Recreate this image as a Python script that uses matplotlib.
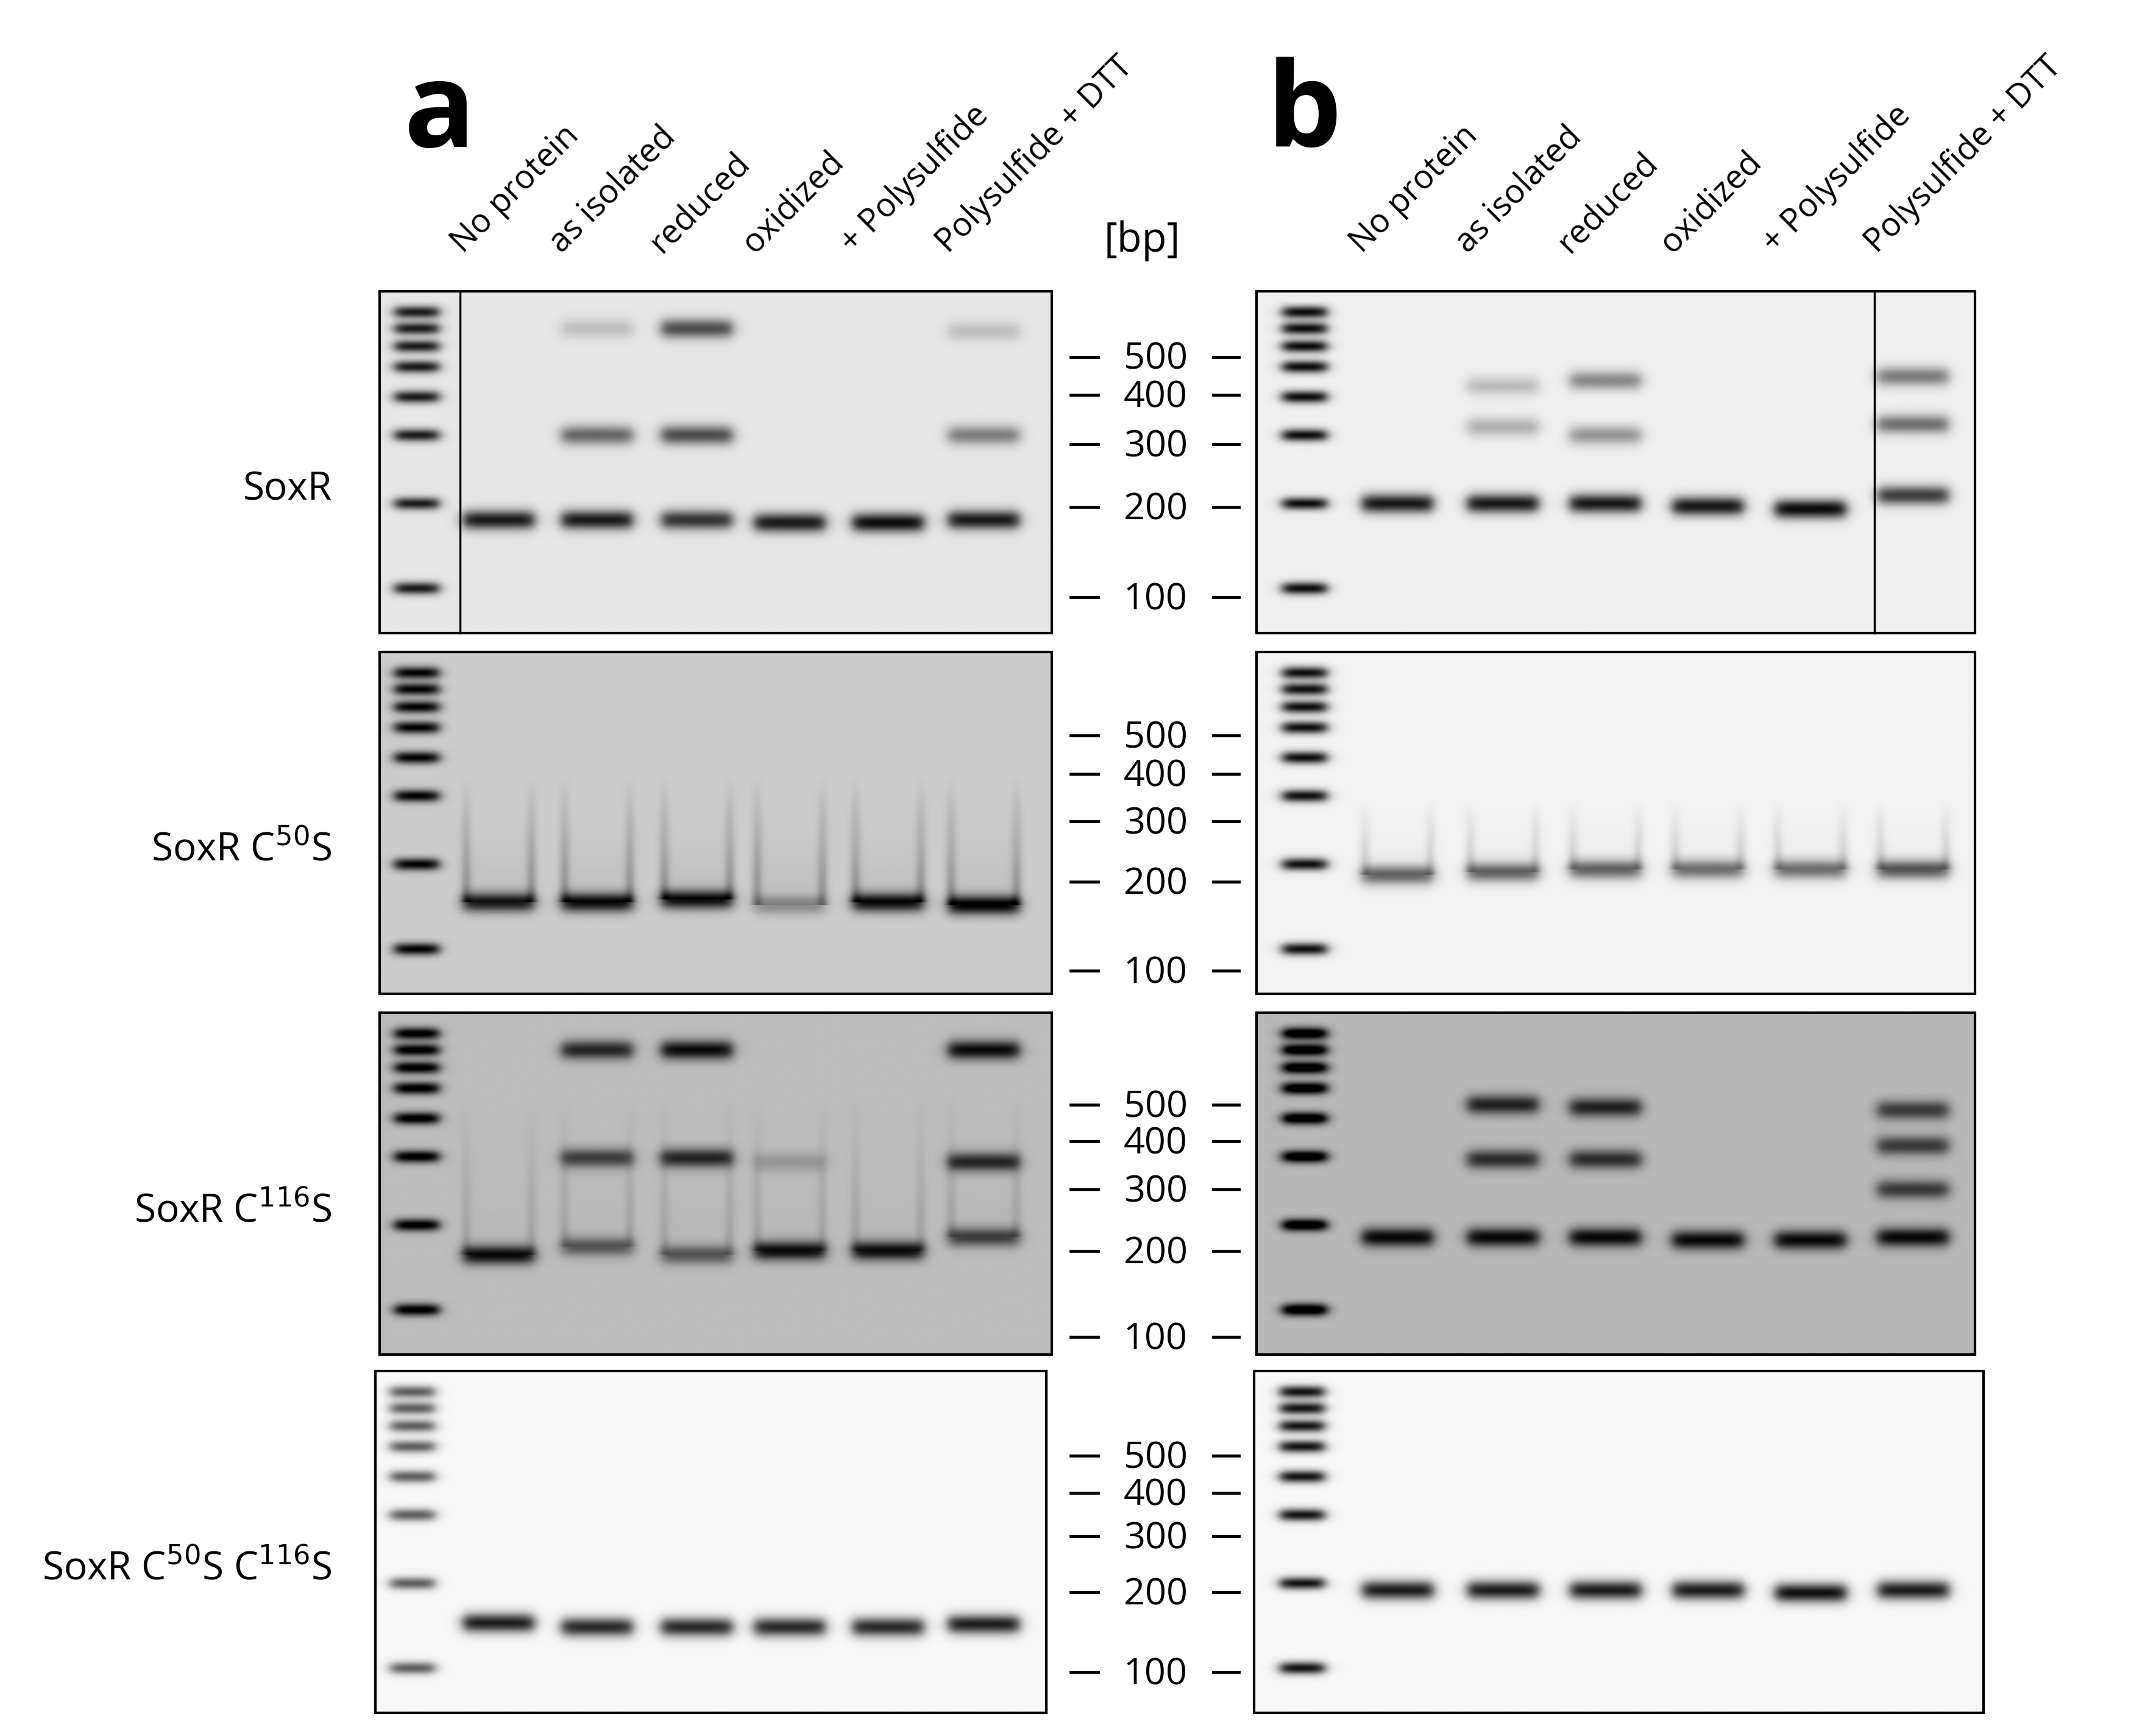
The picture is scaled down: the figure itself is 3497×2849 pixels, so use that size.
import numpy as np
import matplotlib.pyplot as plt
from matplotlib.patches import Rectangle

plt.rcParams['font.family'] = ['Open Sans', 'DejaVu Sans']

# ---- data (positions read in a 1560 x 1270 frame) ----
lanes = ["No protein", "as isolated", "reduced", "oxidized", "+ Polysulfide", "Polysulfide + DTT"]
rows = ["SoxR", "SoxR C$^{50}$S", "SoxR C$^{116}$S", "SoxR C$^{50}$S C$^{116}$S"]
markers = [500, 400, 300, 200, 100]
marker_y = [[261, 289, 325, 371, 437],
            [538, 566, 601, 645, 710],
            [808, 835, 870, 915, 978],
            [1065, 1092, 1124, 1165, 1223]]
row_top = [213, 477, 741, 1003]
gel_h = 250
lane_x_a = [365, 437, 510, 578, 650, 720]
lane_x_b = [1023, 1100, 1175, 1250, 1325, 1400]
ladder_offsets = [15, 27, 40, 55, 77, 105, 155, 217]
bg_a = [0.90, 0.80, 0.74, 0.97]
bg_b = [0.94, 0.95, 0.72, 0.97]

# bands: (lane index, y, strength)
bands_a = [
    [(0, 380, .8), (1, 240, .15), (1, 318, .5), (1, 380, .8), (2, 240, .6), (2, 318, .6), (2, 380, .7),
     (3, 382, .8), (4, 382, .85), (5, 242, .15), (5, 318, .4), (5, 380, .8)],
    [(0, 660, .7), (1, 660, .75), (2, 658, .75), (3, 662, .25), (4, 660, .75), (5, 662, .8)],
    [(0, 918, .7), (1, 768, .6), (1, 847, .5), (1, 912, .4), (2, 768, .7), (2, 847, .6), (2, 918, .4),
     (3, 850, .15), (3, 915, .7), (4, 915, .7), (5, 768, .7), (5, 850, .6), (5, 905, .5)],
    [(0, 1187, .85), (1, 1190, .8), (2, 1190, .8), (3, 1190, .8), (4, 1190, .8), (5, 1188, .85)],
]
bands_b = [
    [(0, 368, .85), (1, 282, .2), (1, 312, .25), (1, 368, .85), (2, 278, .4), (2, 318, .35), (2, 368, .85),
     (3, 370, .85), (4, 372, .9), (5, 275, .45), (5, 310, .5), (5, 362, .7)],
    [(0, 640, .55), (1, 638, .55), (2, 636, .55), (3, 636, .5), (4, 636, .5), (5, 636, .6)],
    [(0, 905, .7), (1, 808, .6), (1, 848, .55), (1, 905, .7), (2, 810, .6), (2, 848, .55), (2, 905, .7),
     (3, 907, .7), (4, 907, .7), (5, 812, .5), (5, 838, .5), (5, 870, .5), (5, 905, .7)],
    [(0, 1163, .85), (1, 1163, .85), (2, 1163, .85), (3, 1163, .85), (4, 1165, .9), (5, 1163, .85)],
]
# smears (lane walls) for the U-shaped bands: row -> (y_top, strength)
smear_a = {1: (565, .22), 2: (800, .1)}
smear_b = {1: (585, .15)}


def gel_image(x0, x1, top, bg, lane_x, ladder_x, bands, smear, ladder_str):
    ys = np.arange(top, top + gel_h, 0.5)
    xs = np.arange(x0, x1, 0.5)
    X, Y = np.meshgrid(xs, ys)
    img = np.full(X.shape, bg)

    def box(cx, hw):
        return 1 / (1 + np.exp((np.abs(X - cx) - hw) / 2.5))

    for off in ladder_offsets:
        img -= ladder_str * box(ladder_x, 16) * np.exp(-((Y - top - off) / 4.5) ** 2)
    for li, y, s in bands:
        img -= s * box(lane_x[li], 26) * np.exp(-((Y - y) / 7.0) ** 2)
    if smear:
        yt, s = smear
        for li in range(6):
            yb = max(y for l, y, _ in bands if l == li)
            ramp = np.clip((Y - yt) / (yb - yt), 0, 1) * (Y < yb)
            for side in (-1, 1):
                img -= s * ramp * np.exp(-((X - lane_x[li] - side * 24) / 4.0) ** 2)
            img -= 0.25 * s * ramp ** 2 * box(lane_x[li], 24)
    return np.clip(img, 0, 1)


fig = plt.figure(figsize=(34.97, 28.49), dpi=100)
ax = fig.add_axes([0, 0, 1, 1])
ax.set_xlim(0, 1560)
ax.set_ylim(1270, 0)
ax.axis('off')

for r in range(4):
    top = row_top[r]
    xa0, xa1 = (278, 770) if r < 3 else (275, 766)
    xb0, xb1 = (920, 1446) if r < 3 else (918, 1452)
    lx_a = xa0 + 27
    lx_b = xb0 + 35
    for (x0, x1, bg, lx, lane_x, bands, smear, ls) in [
            (xa0, xa1, bg_a[r], lx_a, lane_x_a, bands_a[r], smear_a.get(r), .8 if r < 3 else .6),
            (xb0, xb1, bg_b[r], lx_b, lane_x_b, bands_b[r], smear_b.get(r), .9)]:
        img = gel_image(x0, x1, top, bg, lane_x, lx, bands, smear, ls)
        ax.imshow(img, cmap='gray', vmin=0, vmax=1, extent=(x0, x1, top + gel_h, top),
                  aspect='auto', interpolation='bilinear', zorder=1)
        ax.add_patch(Rectangle((x0, top), x1 - x0, gel_h, fill=False, lw=3, ec='black', zorder=3))
    # marker scale
    for m, y in zip(markers, marker_y[r]):
        ax.plot([784, 804], [y, y], color='black', lw=3.5)
        ax.plot([888, 907], [y, y], color='black', lw=3.5)
        ax.text(846, y + 2, str(m), ha='center', va='center', fontsize=44)
    ax.text(243, top + gel_h / 2 + 20, rows[r], ha='right', va='center', fontsize=46)

# splice lines in first row
ax.plot([337, 337], [213, 463], color='black', lw=2.5, zorder=4)
ax.plot([1372, 1372], [213, 463], color='black', lw=2.5, zorder=4)

for lane_x in (lane_x_a, lane_x_b):
    for x, lab in zip(lane_x, lanes):
        ax.text(x - 22, 190, lab, rotation=45, ha='left', va='bottom',
                rotation_mode='anchor', fontsize=39)
ax.text(836, 176, "[bp]", ha='center', va='center', fontsize=48)
ax.text(322, 85, "a", ha='center', va='center', fontsize=140, fontweight='bold')
ax.text(955, 85, "b", ha='center', va='center', fontsize=140, fontweight='bold')

fig.savefig("out.png", dpi=100)
